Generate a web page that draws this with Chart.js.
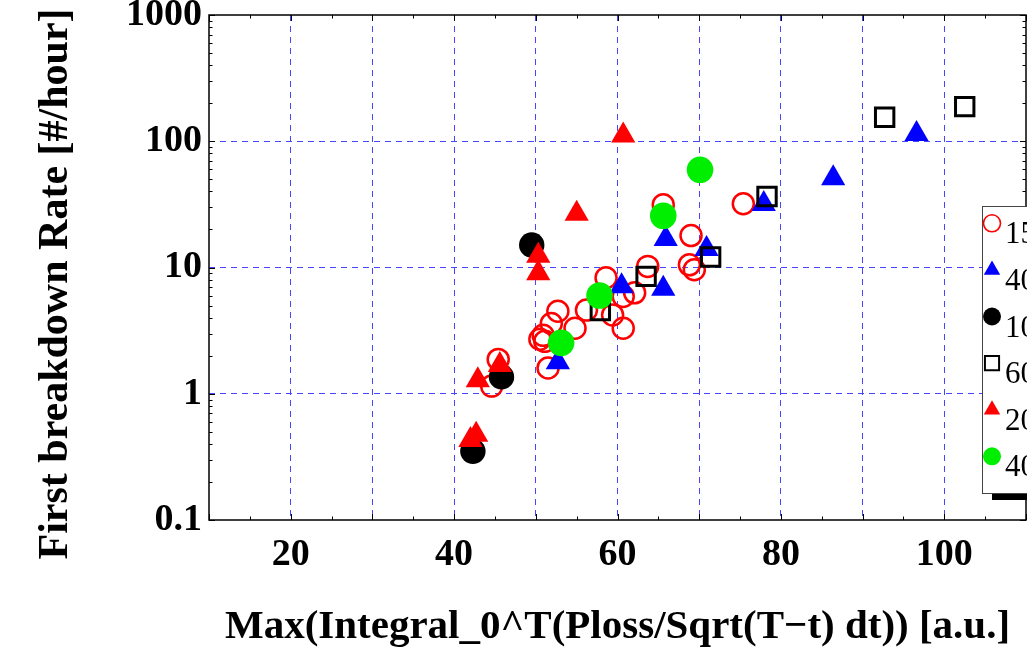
<!DOCTYPE html>
<html>
<head>
<meta charset="utf-8">
<script src="https://cdn.jsdelivr.net/npm/chart.js@4/dist/chart.umd.min.js"></script>
<style>
  html, body { margin: 0; padding: 0; background: #fff; overflow: hidden; }
  canvas { display: block; }
</style>
</head>
<body>
<canvas id="c" width="1027" height="656"></canvas>
<script>
// Series: x = Max(Integral_0^T(Ploss/Sqrt(T-t) dt)), y = first breakdown rate [#/hour]
const legendLabels = ['150 ns', '400 ns', '100 ns', '600 ns', '200 ns', '400 ns (ramp)'];

const ringX = [65.6, 69.0, 68.8, 69.4, 63.7, 60.7, 62.1, 58.6, 59.4, 60.7, 56.2, 52.7, 54.8, 51.9, 50.5, 51.1, 51.5, 45.4, 44.6, 75.4, 50.9];
const ringY = [31.4, 17.9, 10.5, 9.6, 10.2, 5.9, 6.3, 8.3, 4.2, 3.3, 4.6, 4.5, 3.3, 3.6, 2.7, 2.6, 1.6, 1.87, 1.15, 32.0, 2.9];

const blueTriX = [52.7, 60.5, 65.6, 65.9, 70.9, 77.9, 86.4, 96.6];
const blueTriY = [1.78, 7.1, 6.8, 16.8, 14.0, 31.9, 50.9, 114];

const blackDotX = [42.3, 45.8, 49.5];
const blackDotY = [0.35, 1.36, 15.1];

const squareX = [57.9, 63.5, 71.4, 78.3, 92.7, 102.5];
const squareY = [4.55, 8.5, 12.1, 36.5, 155, 188];

const redTriX = [42.0, 42.7, 42.9, 45.6, 50.3, 50.3, 55.0, 60.7];
const redTriY = [0.43, 0.474, 1.28, 1.69, 9.0, 12.4, 26.7, 111];

const greenDotX = [53.1, 57.8, 65.6, 70.1];
const greenDotY = [2.53, 6.0, 25.7, 59.4];

const xGridValues = [20, 30, 40, 50, 60, 70, 80, 90, 100];
const xLabelValues = [20, 40, 60, 80, 100];
const yTickValues = [0.1, 1, 10, 100, 1000];
const yGridValues = [1, 10, 100];

const xTitle = 'Max(Integral_0^T(Ploss/Sqrt(T\u2212t) dt)) [a.u.]';
const yTitle = 'First breakdown Rate [#/hour]';

const pts = (xs, ys) => xs.map((x, i) => ({ x, y: ys[i] }));

const RED = 'rgb(255,0,0)';
const BLUE = 'rgb(0,0,255)';
const GREEN = 'rgb(0,238,0)';
const GRID = 'rgb(70,70,255)';
const SERIF = '"Liberation Serif", "DejaVu Serif", serif';
const serifBold = (s) => ({ family: SERIF, size: s, weight: 'bold' });

const datasets = [
  { label: legendLabels[0], data: pts(ringX, ringY), pointStyle: 'circle', pointRadius: 10.5,
    borderColor: RED, backgroundColor: 'rgba(0,0,0,0)', borderWidth: 2.5, order: 6,
    legendRadius: 8.5, legendBorder: 1.6 },
  { label: legendLabels[1], data: pts(blueTriX, blueTriY), pointStyle: 'triangle', pointRadius: 14,
    borderColor: BLUE, backgroundColor: BLUE, borderWidth: 0, order: 5, legendRadius: 9.5 },
  { label: legendLabels[2], data: pts(blackDotX, blackDotY), pointStyle: 'circle', pointRadius: 12.7,
    borderColor: '#000', backgroundColor: '#000', borderWidth: 0, order: 4, legendRadius: 9 },
  { label: legendLabels[3], data: pts(squareX, squareY), pointStyle: 'rect', pointRadius: 13,
    borderColor: '#000', backgroundColor: 'rgba(0,0,0,0)', borderWidth: 3, order: 3,
    legendRadius: 10, legendBorder: 2 },
  { label: legendLabels[4], data: pts(redTriX, redTriY), pointStyle: 'triangle', pointRadius: 14,
    borderColor: RED, backgroundColor: RED, borderWidth: 0, order: 2, legendRadius: 9.5 },
  { label: legendLabels[5], data: pts(greenDotX, greenDotY), pointStyle: 'circle', pointRadius: 13.3,
    borderColor: GREEN, backgroundColor: GREEN, borderWidth: 0, order: 1, legendRadius: 9 }
];

// Frame, inward tick marks, axis titles and the shadowed legend box
const decorations = {
  id: 'decorations',
  afterDatasetsDraw(chart) {
    const { ctx, chartArea: a, scales: { x, y } } = chart;
    ctx.save();
    ctx.strokeStyle = '#000';
    ctx.lineWidth = 1.5;
    ctx.strokeRect(a.left, a.top, a.right - a.left, a.bottom - a.top);

    ctx.lineWidth = 1;
    ctx.beginPath();
    for (let v = 10; v <= 110; v += 5) {
      const px = Math.round(x.getPixelForValue(v)) + 0.5;
      const len = v % 10 === 0 ? 6 : 3.5;
      ctx.moveTo(px, a.bottom); ctx.lineTo(px, a.bottom - len);
      ctx.moveTo(px, a.top); ctx.lineTo(px, a.top + len);
    }
    [0.1, 1, 10, 100].forEach(d => {
      for (let k = 1; k <= 10; k++) {
        const py = Math.round(y.getPixelForValue(k * d)) + 0.5;
        const len = (k === 1 || k === 10) ? 6 : 3.5;
        ctx.moveTo(a.left, py); ctx.lineTo(a.left + len, py);
        ctx.moveTo(a.right, py); ctx.lineTo(a.right - len, py);
      }
    });
    ctx.stroke();

    // axis titles
    ctx.fillStyle = '#000';
    ctx.font = 'bold 41px ' + SERIF;
    ctx.textAlign = 'center';
    ctx.textBaseline = 'middle';
    ctx.fillText(xTitle, (a.left + a.right) / 2, 627);
    ctx.save();
    ctx.translate(56, 284);
    ctx.rotate(-Math.PI / 2);
    ctx.font = 'bold 42px ' + SERIF;
    ctx.fillText(yTitle, 0, 0);
    ctx.restore();

    // legend with drop shadow
    const bx = 982, by = 206, bw = 200, bh = 287;
    ctx.fillStyle = '#000';
    ctx.fillRect(bx + 10, by + 7, bw, bh);
    ctx.fillStyle = '#fff';
    ctx.fillRect(bx, by, bw, bh);
    ctx.strokeStyle = '#444';
    ctx.lineWidth = 1;
    ctx.strokeRect(bx + 0.5, by + 0.5, bw, bh);

    ctx.font = '31px ' + SERIF;
    ctx.textAlign = 'left';
    ctx.textBaseline = 'alphabetic';
    chart.data.datasets.forEach((ds, i) => {
      const cy = 223.3 + i * 46.6;
      ctx.save();
      ctx.fillStyle = ds.backgroundColor;
      ctx.strokeStyle = ds.borderColor;
      ctx.lineWidth = ds.legendBorder || 0;
      Chart.helpers.drawPoint(ctx, { pointStyle: ds.pointStyle, radius: ds.legendRadius, rotation: 0, borderWidth: ds.legendBorder || 0 }, 992, cy);
      ctx.restore();
      ctx.fillStyle = '#000';
      ctx.fillText(ds.label, 1005, cy + 20);
    });
    ctx.restore();
  }
};

new Chart(document.getElementById('c'), {
  type: 'scatter',
  data: { datasets },
  options: {
    responsive: false,
    devicePixelRatio: 1,
    animation: false,
    layout: { autoPadding: false, padding: { left: 0, top: 15, right: 1, bottom: 0 } },
    plugins: { legend: { display: false }, tooltip: { enabled: false } },
    elements: { point: { hoverRadius: 0 } },
    scales: {
      x: {
        type: 'linear', min: 10, max: 110,
        afterBuildTicks: s => { s.ticks = [10, ...xGridValues, 110].map(v => ({ value: v })); },
        afterFit: s => { s.height = 136; s.paddingLeft = 0; s.paddingRight = 0; },
        grid: {
          drawTicks: false,
          lineWidth: 1,
          color: c => (c.tick && xGridValues.includes(c.tick.value)) ? GRID : 'rgba(0,0,0,0)'
        },
        border: { display: false, dash: [6, 5] },
        ticks: {
          autoSkip: false, maxRotation: 0, padding: 12, color: '#000', font: serifBold(38),
          callback: v => xLabelValues.includes(v) ? String(v) : ''
        }
      },
      y: {
        type: 'logarithmic', min: 0.1, max: 1000,
        afterBuildTicks: s => { s.ticks = yTickValues.map(v => ({ value: v })); },
        afterFit: s => { s.width = 209; s.paddingTop = 0; s.paddingBottom = 0; },
        grid: {
          drawTicks: false,
          lineWidth: 1,
          color: c => (c.tick && yGridValues.includes(c.tick.value)) ? GRID : 'rgba(0,0,0,0)'
        },
        border: { display: false, dash: [6, 5] },
        ticks: {
          autoSkip: false, padding: 7, color: '#000', font: serifBold(38),
          callback: v => yTickValues.includes(v) ? String(v) : ''
        }
      }
    }
  },
  plugins: [decorations]
});
</script>
</body>
</html>
